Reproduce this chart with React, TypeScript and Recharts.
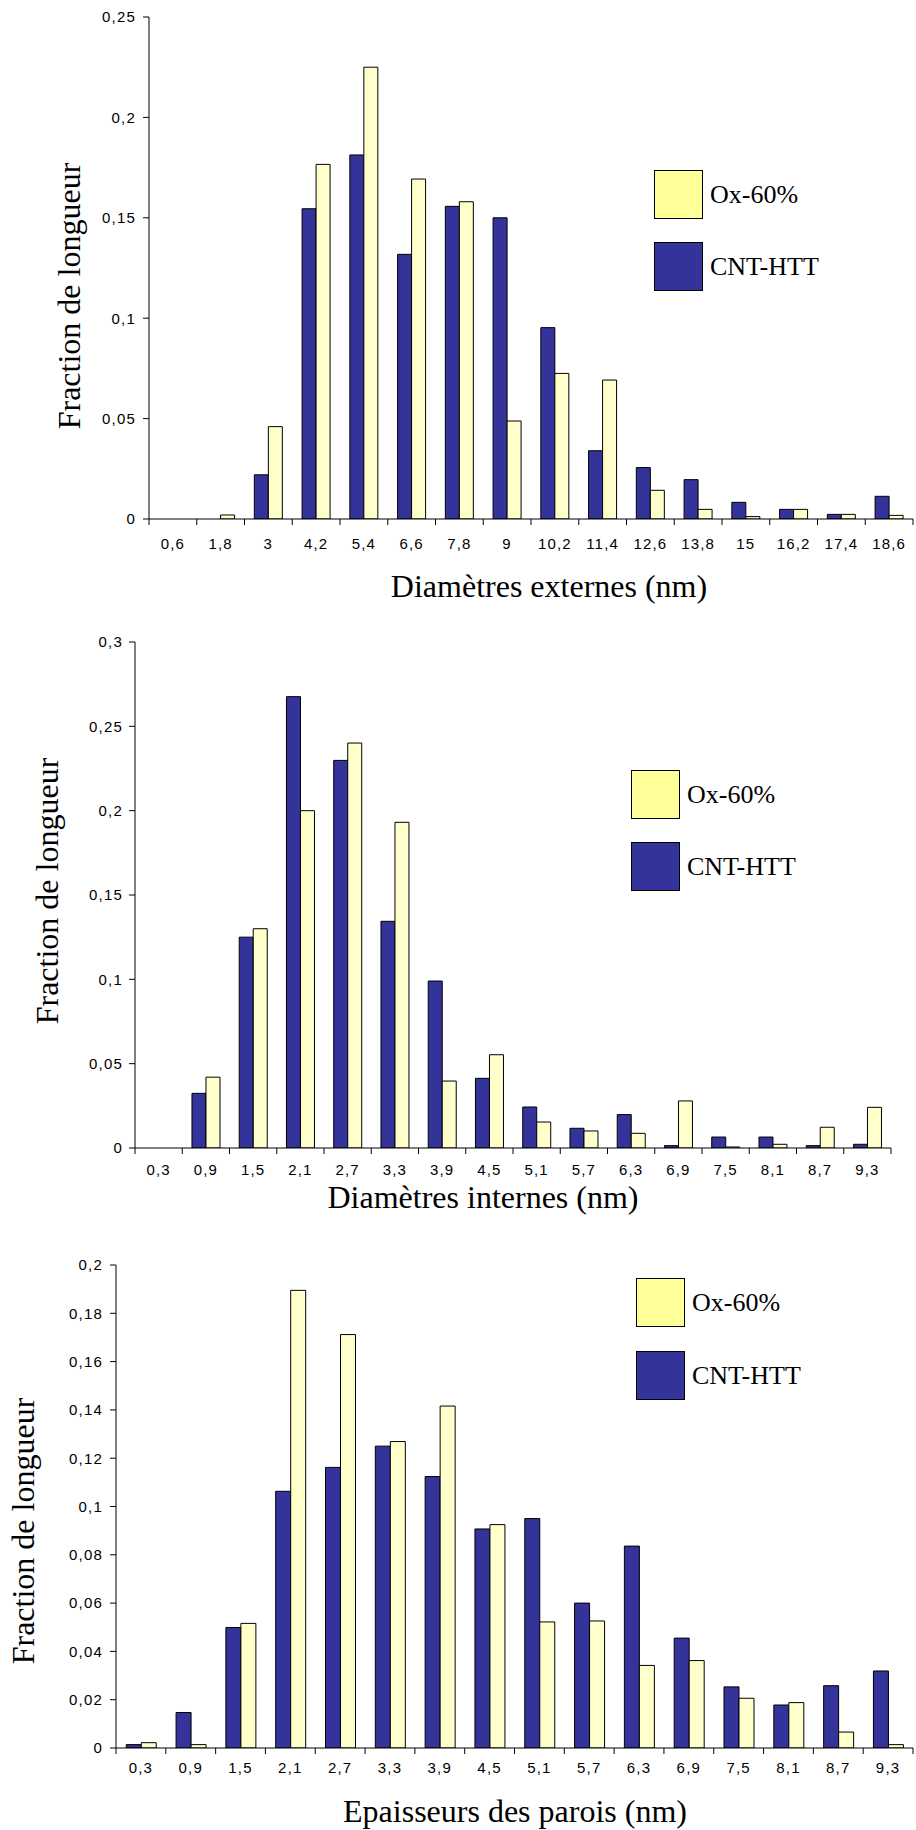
import { BarChart, Bar, XAxis, YAxis, Legend } from "recharts";

// Categories (nm) and length fractions
const EXT_CATS = ["0,6", "1,8", "3", "4,2", "5,4", "6,6", "7,8", "9", "10,2", "11,4", "12,6", "13,8", "15", "16,2", "17,4", "18,6"];
const EXT_CNT = [0, 0, 0.022, 0.1545, 0.1813, 0.1318, 0.1557, 0.15, 0.0953, 0.034, 0.0256, 0.0196, 0.0083, 0.0048, 0.0023, 0.0113];
const EXT_OX = [0, 0.002, 0.046, 0.1766, 0.225, 0.1693, 0.158, 0.0488, 0.0725, 0.0692, 0.0143, 0.0048, 0.0012, 0.0048, 0.0023, 0.0018];
const EXT_TICKS = [0, 0.05, 0.1, 0.15, 0.2, 0.25];

const INT_CATS = ["0,3", "0,9", "1,5", "2,1", "2,7", "3,3", "3,9", "4,5", "5,1", "5,7", "6,3", "6,9", "7,5", "8,1", "8,7", "9,3"];
const INT_CNT = [0, 0.0324, 0.125, 0.2676, 0.2298, 0.1344, 0.099, 0.0413, 0.0243, 0.0117, 0.0198, 0.0014, 0.0065, 0.0065, 0.0014, 0.0022];
const INT_OX = [0, 0.042, 0.13, 0.2, 0.2401, 0.1931, 0.0397, 0.0553, 0.0154, 0.0101, 0.0087, 0.0279, 0.0006, 0.0022, 0.0123, 0.0241];
const INT_TICKS = [0, 0.05, 0.1, 0.15, 0.2, 0.25, 0.3];

const WALL_CATS = ["0,3", "0,9", "1,5", "2,1", "2,7", "3,3", "3,9", "4,5", "5,1", "5,7", "6,3", "6,9", "7,5", "8,1", "8,7", "9,3"];
const WALL_CNT = [0.0014, 0.0147, 0.0499, 0.1063, 0.1162, 0.125, 0.1124, 0.0907, 0.095, 0.06, 0.0836, 0.0455, 0.0253, 0.0178, 0.0258, 0.0319];
const WALL_OX = [0.0022, 0.0014, 0.0516, 0.1895, 0.1712, 0.1269, 0.1416, 0.0925, 0.0522, 0.0526, 0.0342, 0.0362, 0.0206, 0.0188, 0.0066, 0.0014];
const WALL_TICKS = [0, 0.02, 0.04, 0.06, 0.08, 0.1, 0.12, 0.14, 0.16, 0.18, 0.2];

const W = 916;
const CNT_FILL = "#333399";
const OX_FILL = "#FFFFCC";
const OX_KEY = "#FFFF99";
const FRAME = "#8c8c8c";
const SANS = "'Liberation Sans', Arial, sans-serif";
const SERIF = "'Liberation Serif', 'Times New Roman', serif";

const fmt = (v: number) => String(v).replace(".", ",");

const toRows = (cats: string[], cnt: number[], ox: number[]) =>
  cats.map((c, i) => ({ cat: c, cnt: cnt[i], ox: ox[i] }));

function EdgeTick(props: any) {
  const { x, y, payload, index, visibleTicksCount, half, dy } = props;
  return (
    <g>
      <line x1={x - half} x2={x - half} y1={y} y2={y + 6} stroke="#000" />
      {index === visibleTicksCount - 1 && (
        <line x1={x + half} x2={x + half} y1={y} y2={y + 6} stroke="#000" />
      )}
      <text x={x} y={y + dy} textAnchor="middle" fontSize={15} fontFamily={SANS} letterSpacing={1.2} fill="#000">
        {payload.value}
      </text>
    </g>
  );
}

function KeyBox({ gap }: { gap: number }) {
  const items = [
    { name: "Ox-60%", color: OX_KEY },
    { name: "CNT-HTT", color: CNT_FILL },
  ];
  return (
    <div>
      {items.map((it, i) => (
        <div key={it.name} style={{ display: "flex", alignItems: "center", height: 49, marginBottom: i === 0 ? gap : 0 }}>
          <div style={{ width: 49, height: 49, boxSizing: "border-box", border: "1.5px solid #000", background: it.color }} />
          <span style={{ marginLeft: 7, fontFamily: SERIF, fontSize: 26, color: "#000", lineHeight: "26px" }}>{it.name}</span>
        </div>
      ))}
    </div>
  );
}

interface PanelProps {
  rows: { cat: string; cnt: number; ox: number }[];
  yMax: number;
  yTicks: number[];
  top: number;
  height: number;
  plotLeft: number;
  plotTop: number;
  plotRight: number;
  plotBottom: number;
  tickMargin: number;
  xLabelDy: number;
  xTitle: string;
  xTitleX: number;
  xTitleY: number;
  yTitleX: number;
  yTitleY: number;
  legendLeft: number;
  legendTop: number;
  legendGap: number;
}

function Panel(p: PanelProps) {
  const n = p.rows.length;
  const half = (p.plotRight - p.plotLeft) / n / 2;
  const axisH = 40;
  const margin = {
    top: p.plotTop - p.top,
    right: W - p.plotRight,
    left: 0,
    bottom: p.height - (p.plotBottom - p.top) - axisH,
  };
  return (
    <div style={{ position: "absolute", left: 0, top: p.top, width: W, height: p.height }}>
      <BarChart width={W} height={p.height} data={p.rows} margin={margin} barGap={0} barCategoryGap="20.6%">
        <XAxis
          dataKey="cat"
          height={axisH}
          interval={0}
          tickSize={0}
          tickMargin={0}
          tickLine={false}
          axisLine={{ stroke: "#000" }}
          tick={(t: any) => <EdgeTick {...t} half={half} dy={p.xLabelDy} />}
        />
        <XAxis xAxisId="frame" dataKey="cat" orientation="top" height={0} tick={false} tickLine={false} axisLine={{ stroke: FRAME }} />
        <YAxis
          width={p.plotLeft}
          type="number"
          domain={[0, p.yMax]}
          ticks={p.yTicks}
          interval={0}
          allowDataOverflow
          tickFormatter={fmt}
          tickSize={6}
          tickMargin={p.tickMargin}
          axisLine={{ stroke: "#000" }}
          tickLine={{ stroke: "#000" }}
          tick={{ fontSize: 15, fill: "#000", fontFamily: SANS, letterSpacing: 1.2 }}
        />
        <YAxis yAxisId="frame" orientation="right" width={0} type="number" domain={[0, p.yMax]} tick={false} tickLine={false} axisLine={{ stroke: FRAME }} />
        <Legend
          layout="vertical"
          align="center"
          verticalAlign="middle"
          wrapperStyle={{ left: p.legendLeft, top: p.legendTop - p.top, width: "auto" }}
          content={() => <KeyBox gap={p.legendGap} />}
        />
        <Bar dataKey="cnt" name="CNT-HTT" fill={CNT_FILL} stroke="#000" strokeWidth={1} isAnimationActive={false} />
        <Bar dataKey="ox" name="Ox-60%" fill={OX_FILL} stroke="#000" strokeWidth={1} isAnimationActive={false} />
      </BarChart>
      <svg width={W} height={p.height} style={{ position: "absolute", left: 0, top: 0, pointerEvents: "none" }}>
        <text x={p.xTitleX} y={p.xTitleY - p.top} textAnchor="middle" fontFamily={SERIF} fontSize={32} fill="#000">
          {p.xTitle}
        </text>
        <text
          x={p.yTitleX}
          y={p.yTitleY - p.top}
          textAnchor="middle"
          fontFamily={SERIF}
          fontSize={32}
          fill="#000"
          transform={`rotate(-90 ${p.yTitleX} ${p.yTitleY - p.top})`}
        >
          Fraction de longueur
        </text>
      </svg>
    </div>
  );
}

export default function App() {
  return (
    <div style={{ position: "absolute", left: 0, top: 0, width: W, height: 1830, background: "#fff" }}>
      <Panel
        rows={toRows(EXT_CATS, EXT_CNT, EXT_OX)}
        yMax={0.25}
        yTicks={EXT_TICKS}
        top={0}
        height={620}
        plotLeft={149}
        plotTop={17}
        plotRight={913}
        plotBottom={519}
        tickMargin={7}
        xLabelDy={30}
        xTitle="Diamètres externes (nm)"
        xTitleX={549}
        xTitleY={597}
        yTitleX={80}
        yTitleY={296}
        legendLeft={654}
        legendTop={170}
        legendGap={23}
      />
      <Panel
        rows={toRows(INT_CATS, INT_CNT, INT_OX)}
        yMax={0.3}
        yTicks={INT_TICKS}
        top={620}
        height={600}
        plotLeft={135}
        plotTop={642}
        plotRight={891}
        plotBottom={1148}
        tickMargin={6}
        xLabelDy={27}
        xTitle="Diamètres internes (nm)"
        xTitleX={483}
        xTitleY={1208}
        yTitleX={58}
        yTitleY={891}
        legendLeft={631}
        legendTop={770}
        legendGap={23}
      />
      <Panel
        rows={toRows(WALL_CATS, WALL_CNT, WALL_OX)}
        yMax={0.2}
        yTicks={WALL_TICKS}
        top={1220}
        height={610}
        plotLeft={116}
        plotTop={1265}
        plotRight={913}
        plotBottom={1748}
        tickMargin={7}
        xLabelDy={25}
        xTitle="Epaisseurs des parois (nm)"
        xTitleX={515}
        xTitleY={1822}
        yTitleX={34}
        yTitleY={1531}
        legendLeft={636}
        legendTop={1278}
        legendGap={24}
      />
    </div>
  );
}
